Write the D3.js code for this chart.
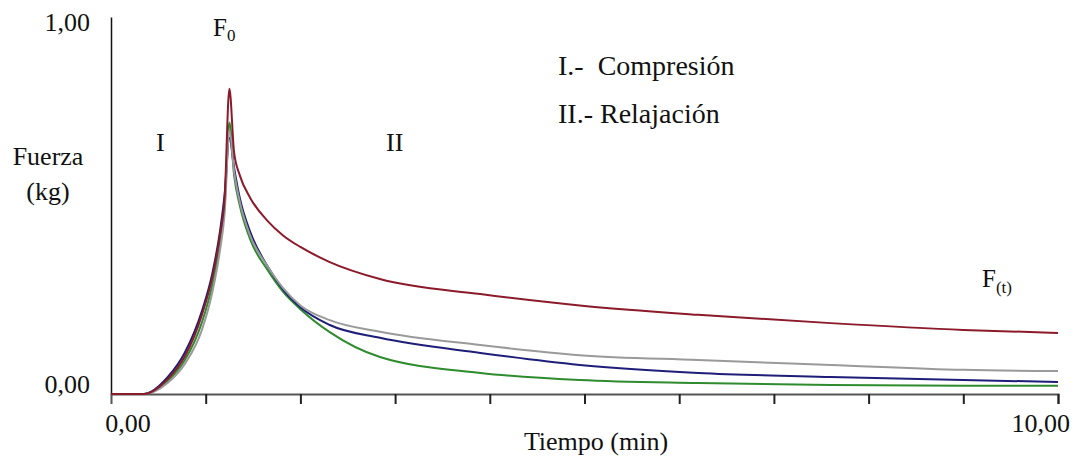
<!DOCTYPE html>
<html>
<head>
<meta charset="utf-8">
<script src="https://cdn.jsdelivr.net/npm/d3@7"></script>
<style>
  body { margin: 0; background: #fff; }
</style>
</head>
<body>
<script>
// Time samples (min) and force (kg) of each test
var times = [0, 0.35, 0.6, 0.78, 0.96, 1.07, 1.15, 1.2, 1.25, 1.3, 1.36, 1.47, 1.65, 1.82, 2.0, 2.31, 2.84, 3.9, 4.95, 6.2, 7.6, 9.0, 10];
var redForce   = [0, 0, 0.04, 0.10, 0.21, 0.31, 0.42, 0.52, 0.81, 0.64, 0.58, 0.52, 0.46, 0.42, 0.39, 0.35, 0.305, 0.265, 0.235, 0.21, 0.188, 0.17, 0.162];
var grayForce  = [0, 0, 0.03, 0.08, 0.17, 0.27, 0.38, 0.48, 0.70, 0.59, 0.51, 0.42, 0.34, 0.28, 0.235, 0.196, 0.165, 0.13, 0.103, 0.09, 0.077, 0.064, 0.061];
var blueForce  = [0, 0, 0.045, 0.11, 0.22, 0.32, 0.43, 0.53, 0.68, 0.60, 0.52, 0.43, 0.34, 0.276, 0.23, 0.183, 0.149, 0.109, 0.077, 0.056, 0.045, 0.037, 0.032];
var greenForce = [0, 0, 0.035, 0.09, 0.19, 0.29, 0.40, 0.50, 0.72, 0.58, 0.50, 0.41, 0.33, 0.27, 0.225, 0.164, 0.098, 0.056, 0.037, 0.029, 0.024, 0.022, 0.022];

var xTicks = [1, 2, 3, 4, 5, 6, 7, 8, 9, 10];

var width = 1087, height = 460;
var serif = "'Liberation Serif', 'DejaVu Serif', serif";

var x = d3.scaleLinear().domain([0, 10]).range([111, 1058]);
var y = d3.scaleLinear().domain([0, 1]).range([394, 17]);

var svg = d3.select("body")
    .append("svg")
        .attr("width", width)
        .attr("height", height)
        .attr("font-family", serif);

var line = d3.line()
    .x(function(d) { return x(d[0]); })
    .y(function(d) { return y(d[1]); })
    .curve(d3.curveMonotoneX);

var series = [
    {values: greenForce, color: "#2e8b2e"},
    {values: blueForce,  color: "#1e1e78"},
    {values: grayForce,  color: "#9a9a9a"},
    {values: redForce,   color: "#8b1a2a"}
];

// X axis (ticks only, no labels)
var xAxis = d3.axisBottom(x).tickValues(xTicks).tickSize(10).tickFormat("");
var gx = svg.append("g")
    .attr("transform", "translate(0," + y(0) + ")")
    .call(xAxis);
gx.select(".domain").attr("stroke", "#555").attr("stroke-width", 2);
gx.selectAll(".tick line").attr("stroke", "#222").attr("stroke-width", 2);

// Y axis, just the line
var gy = svg.append("g")
    .attr("transform", "translate(" + x(0) + ",0)")
    .call(d3.axisLeft(y).tickValues([]).tickSizeOuter(0));
gy.select(".domain").attr("stroke", "#111").attr("stroke-width", 1.5);

// the curves
series.forEach(function(s) {
    var pts = times.map(function(t, i) { return [t, s.values[i]]; });
    svg.append("path")
        .attr("d", line(pts))
        .attr("fill", "none")
        .attr("stroke", s.color)
        .attr("stroke-width", 2);
});

function label(px, py, txt, size, anchor) {
    return svg.append("text")
        .attr("x", px).attr("y", py)
        .attr("text-anchor", anchor || "start")
        .attr("font-family", serif)
        .attr("font-size", size)
        .attr("fill", "#111")
        .text(txt);
}

// axis labels
label(90, y(1) + 14, "1,00", 26, "end");
label(90, y(0) - 1, "0,00", 26, "end");
label(x(0) + 17, 432, "0,00", 26, "middle");
label(x(10) + 12, 432, "10,00", 26, "end");
label(596, 450, "Tiempo (min)", 26, "middle");
label(48, 165, "Fuerza", 26, "middle");
label(48, 200, "(kg)", 26, "middle");

// F0 at the peak
var f0 = label(213, 36, "", 25);
f0.append("tspan").text("F");
f0.append("tspan").attr("dy", 5).attr("font-size", 17).text("0");

// F(t) at the right
var ft = label(982, 287, "", 25);
ft.append("tspan").text("F");
ft.append("tspan").attr("dy", 6).attr("font-size", 17).text("(t)");

// phase labels
label(156, 151, "I", 26);
label(386, 151, "II", 26);
label(558, 75, "I.-\u00a0 Compresión", 28);
label(558, 123, "II.- Relajación", 28);
</script>
</body>
</html>
